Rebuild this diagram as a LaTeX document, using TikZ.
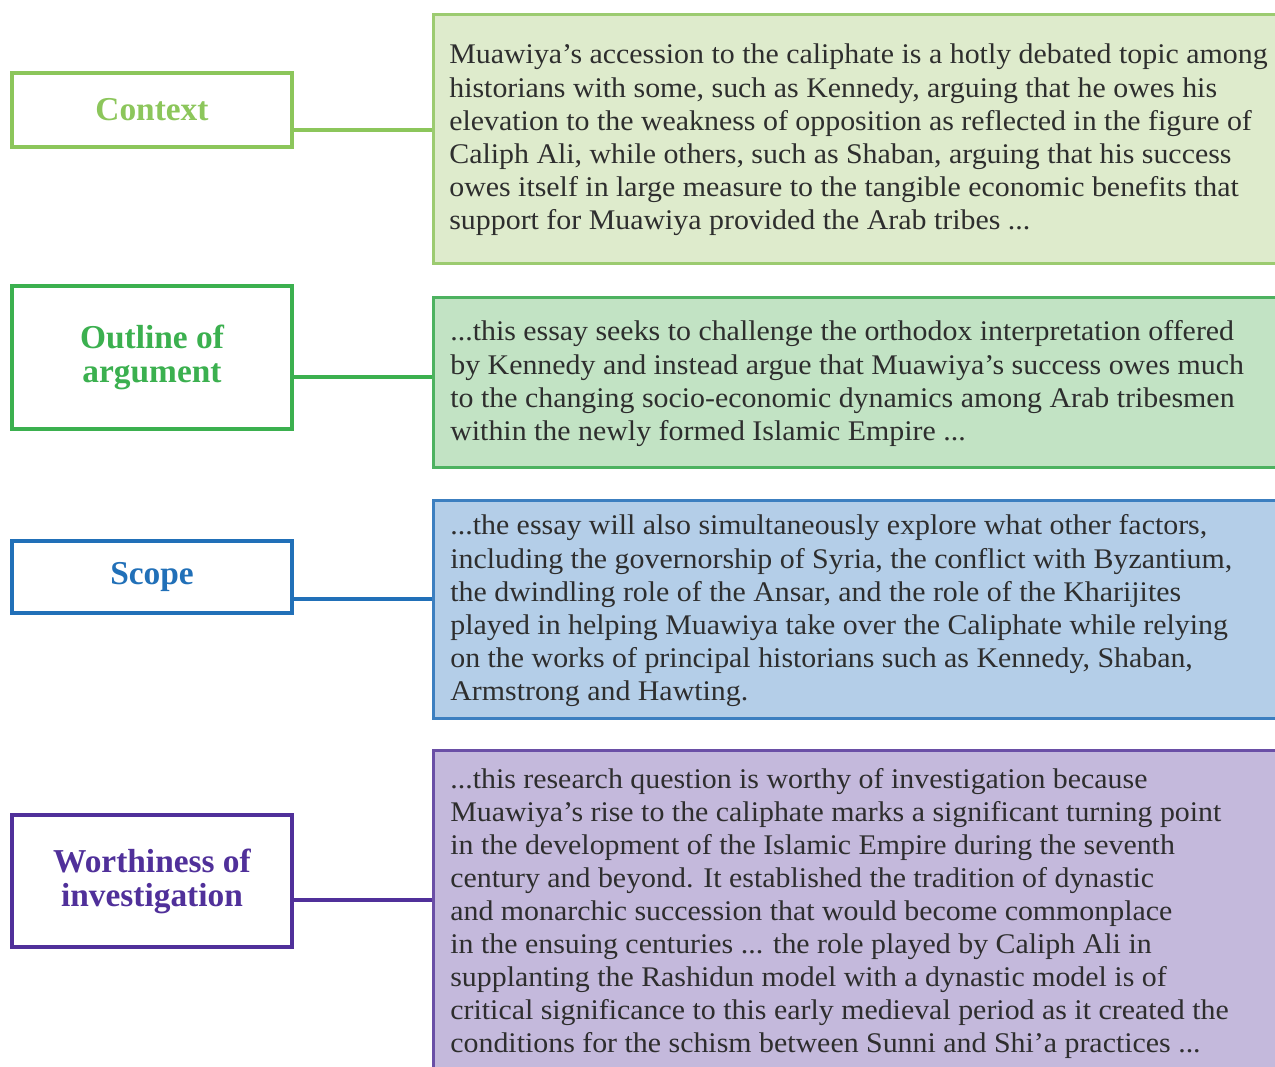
\documentclass[tikz,border=0pt]{standalone}
\usepackage{fontspec}
\setmainfont{Liberation Serif}
\newfontfamily\bodyfont{Liberation Serif}[FakeStretch=1.05]
\definecolor{cA}{HTML}{8CC65B}
\definecolor{fA}{HTML}{DEEBCC}
\definecolor{bA}{HTML}{9CCB70}
\definecolor{cB}{HTML}{3BB04F}
\definecolor{fB}{HTML}{C2E3C4}
\definecolor{bB}{HTML}{4DB260}
\definecolor{cC}{HTML}{2170B8}
\definecolor{fC}{HTML}{B4CEE8}
\definecolor{bC}{HTML}{3C7FC0}
\definecolor{cD}{HTML}{50309A}
\definecolor{fD}{HTML}{C4B9DC}
\definecolor{bD}{HTML}{6A4FA6}
\definecolor{txt}{HTML}{2E2E2E}
\newcommand{\bodytext}[1]{\parbox[t]{16.5cm}{\bodyfont\fontsize{16.2}{18.8}\selectfont #1}}
\begin{document}
\begin{tikzpicture}[x=0.02cm,y=-0.02cm,
  label box/.style={draw=#1,line width=2.8pt,fill=white,text=#1,
    minimum width=5.6cm,inner sep=0pt,align=center,
    font=\fontsize{19}{19.3}\selectfont\bfseries},
  text box/.style={draw=#1,line width=1.6pt,anchor=north west,inner sep=0pt},
  body/.style={anchor=base west,inner sep=0pt,text=txt},
  link/.style={draw=#1,line width=2.4pt}]
\useasboundingbox (0,0) rectangle (1275,1067);
% right boxes
\node[text box=bA,fill=fA,minimum width=17.2cm,minimum height=4.98cm] (rA) at (432,13) {};
\node[text box=bB,fill=fB,minimum width=17.2cm,minimum height=3.4cm] (rB) at (432,296) {};
\node[text box=bC,fill=fC,minimum width=17.2cm,minimum height=4.36cm] (rC) at (432,499) {};
\node[text box=bD,fill=fD,minimum width=17.2cm,minimum height=6.6cm] (rD) at (432,749) {};
% texts
\node[body] (tA) at (449,64) {\bodytext{Muawiya’s accession to the caliphate is a hotly debated topic among\\
historians with some, such as Kennedy, arguing that he owes his\\
elevation to the weakness of opposition as reflected in the figure of\\
Caliph Ali, while others, such as Shaban, arguing that his success\\
owes itself in large measure to the tangible economic benefits that\\
support for Muawiya provided the Arab tribes ...}};
\node[body] (tB) at (450,341) {\bodytext{...this essay seeks to challenge the orthodox interpretation offered\\
by Kennedy and instead argue that Muawiya’s success owes much\\
to the changing socio-economic dynamics among Arab tribesmen\\
within the newly formed Islamic Empire ...}};
\node[body] (tC) at (450,535) {\bodytext{...the essay will also simultaneously explore what other factors,\\
including the governorship of Syria, the conflict with Byzantium,\\
the dwindling role of the Ansar, and the role of the Kharijites\\
played in helping Muawiya take over the Caliphate while relying\\
on the works of principal historians such as Kennedy, Shaban,\\
Armstrong and Hawting.}};
\node[body] (tD) at (450,788) {\bodytext{...this research question is worthy of investigation because\\
Muawiya’s rise to the caliphate marks a significant turning point\\
in the development of the Islamic Empire during the seventh\\
century and beyond. It established the tradition of dynastic\\
and monarchic succession that would become commonplace\\
in the ensuing centuries ... the role played by Caliph Ali in\\
supplanting the Rashidun model with a dynastic model is of\\
critical significance to this early medieval period as it created the\\
conditions for the schism between Sunni and Shi’a practices ...}};
% left boxes
\node[label box=cA,minimum height=1.48cm] (lA) at (152,110) {Context};
\node[label box=cB,minimum height=2.86cm] (lB) at (152,357.5) {Outline of\\argument};
\node[label box=cC,minimum height=1.44cm] (lC) at (152,577) {Scope};
\node[label box=cD,minimum height=2.64cm] (lD) at (152,881) {Worthiness of\\investigation};
% connectors
\draw[link=cA] (lA.east |- 0,130) -- (rA.west |- 0,130);
\draw[link=cB] (lB.east |- 0,377) -- (rB.west |- 0,377);
\draw[link=cC] (lC.east |- 0,599) -- (rC.west |- 0,599);
\draw[link=cD] (lD.east |- 0,900) -- (rD.west |- 0,900);
\end{tikzpicture}
\end{document}
